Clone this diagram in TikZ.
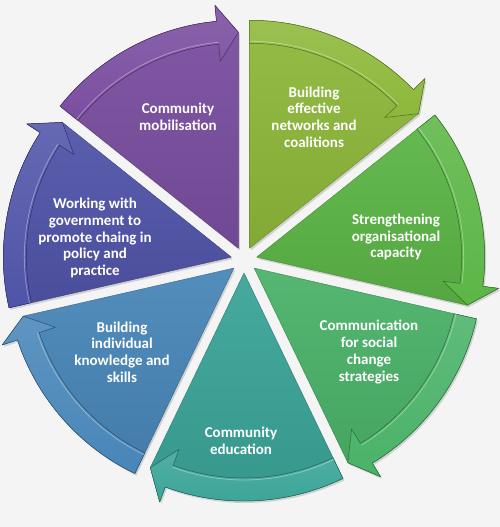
\documentclass[tikz,border=0pt]{standalone}
\usepackage{fontspec}
\setmainfont{Carlito}
\usetikzlibrary{shadows}
\definecolor{bgc}{RGB}{244,244,244}
\definecolor{cmob}{RGB}{122,78,160}
\definecolor{cnet}{RGB}{141,184,58}
\definecolor{ccap}{RGB}{92,182,70}
\definecolor{ccom}{RGB}{74,178,104}
\definecolor{cedu}{RGB}{58,164,152}
\definecolor{ckno}{RGB}{72,134,184}
\definecolor{cgov}{RGB}{80,84,168}
\begin{document}
\begin{tikzpicture}[x=1pt, y=1pt, line join=round, font=\fontsize{15}{16.8}\selectfont\bfseries]
	\tikzset{wedge/.style={top color=#1!94!white, bottom color=#1!92!black, draw=#1!75!black, line width=0.4pt,
			drop shadow={opacity=0.3, shadow xshift=1.5pt, shadow yshift=-2pt}},
		band/.style={top color=#1!88!white, bottom color=#1, draw=#1!60!black, line width=0.5pt},
		label style/.style={text=white, align=center}}
	\fill[bgc] (0,0) rectangle (500,527);
	\useasboundingbox (0,0) rectangle (500,527);
	\coordinate (C) at (244,267);
	% seven wedges, each with its arrow band on the rim
	\foreach \c [count=\k from 0] in {cmob,cnet,ccap,ccom,cedu,ckno,cgov}{
		\pgfmathsetmacro{\s}{141.43-51.43*\k}
		\pgfmathsetmacro{\e}{\s-51.43}
		\pgfmathsetmacro{\m}{\s-25.71}
		\pgfmathsetmacro{\h}{\e+5.5}
		\begin{scope}[shift={(C)}, shift={(\m:13)}]
			\draw[wedge=\c] (0,0) -- (\e:216) -- (\h:244) -- (\h:228) arc[start angle=\h, end angle=\s, radius=228] -- cycle;
			\draw[band=\c] (\s:205) -- (\s:228) arc[start angle=\s, end angle=\h, radius=228] -- (\h:244) -- (\e:216)
				-- (\h:188) -- (\h:205) arc[start angle=\h, end angle=\s, radius=205] -- cycle;
			\draw[white, opacity=0.35, line width=0.8pt] (\s:207) arc[start angle=\s, end angle=\h, radius=207];
		\end{scope}
	}
	\node[label style] (mob) at (178,410) {Community\\mobilisation};
	\node[label style] (net) at (314,410) {Building\\effective\\networks and\\coalitions};
	\node[label style] (cap) at (396,290) {Strengthening\\organisational\\capacity};
	\node[label style] (comm) at (369,175) {Communication\\for social\\change\\strategies};
	\node[label style] (edu) at (241,86) {Community\\education};
	\node[label style] (know) at (122,175) {Building\\individual\\knowledge and\\skills};
	\node[label style] (gov) at (95,289) {Working with\\government to\\promote chaing in\\policy and\\practice};
\end{tikzpicture}
\end{document}
